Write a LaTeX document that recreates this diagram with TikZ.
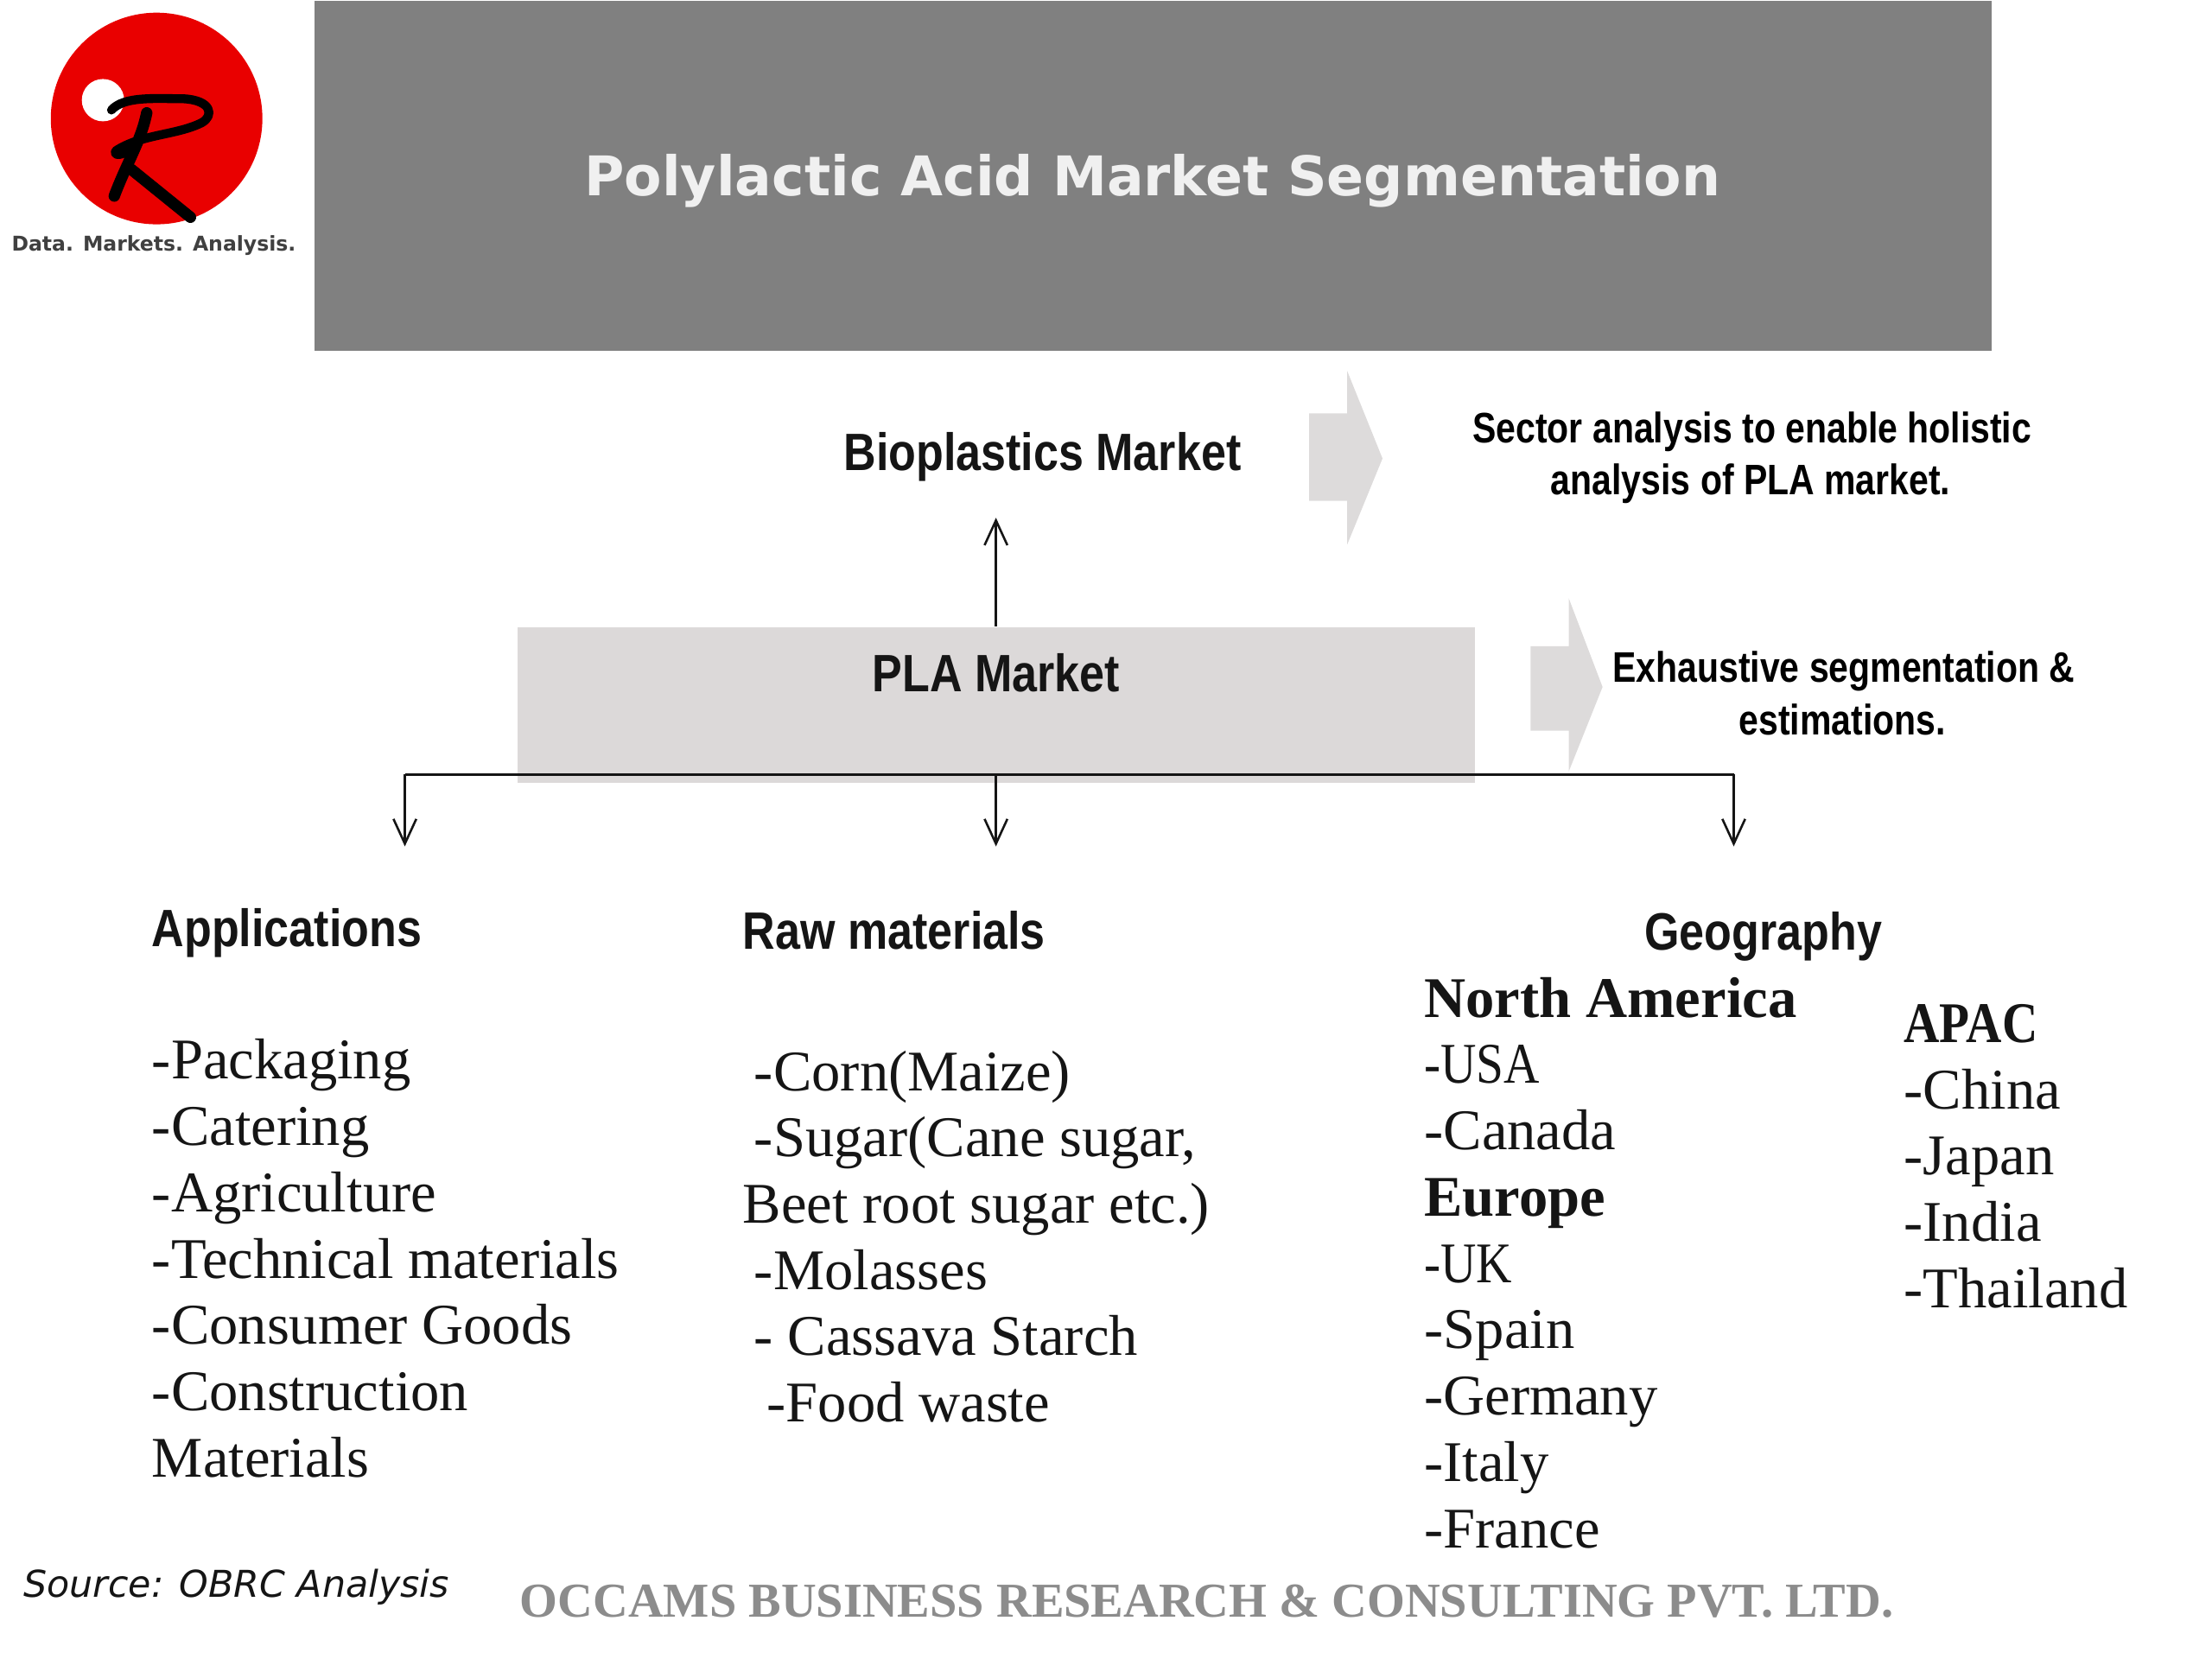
\documentclass[tikz,border=0pt]{standalone}
\usepackage{fontspec}
\setmainfont{Liberation Serif}
\newfontfamily\headfont[FakeStretch=0.855]{Liberation Sans}
\newfontfamily\notefont[FakeStretch=0.83]{Liberation Sans}
\newfontfamily\titlefont{DejaVu Sans}
\newfontfamily\listfont{Liberation Serif}
\newfontfamily\capsfont[FakeStretch=0.86]{Liberation Serif}
\usetikzlibrary{arrows.meta}
\definecolor{hdr}{HTML}{808080}
\definecolor{boxg}{HTML}{DCD9D9}
\definecolor{arrg}{HTML}{DDDBDB}
\definecolor{logored}{HTML}{E90000}
\definecolor{ink}{HTML}{151515}
\definecolor{occ}{HTML}{8C8C8C}
\tikzset{
  x=0.01cm,y=-0.01cm,
  headtext/.style={font=\headfont\bfseries\fontsize{10.6}{12}\selectfont,text=ink,inner sep=0pt},
  notetext/.style={font=\notefont\bfseries\fontsize{8.6}{10}\selectfont,text=black,inner sep=0pt},
  listitem/.style={font=\listfont\fontsize{11.6}{13}\selectfont,text=ink,inner sep=0pt,anchor=base west},
  listbold/.style={listitem,font=\listfont\bfseries\fontsize{11.6}{13}\selectfont},
  listcaps/.style={listitem,font=\capsfont\fontsize{11.6}{13}\selectfont},
  listcapsbold/.style={listitem,font=\capsfont\bfseries\fontsize{11.6}{13}\selectfont},
  conn/.style={draw=ink,line width=0.45pt,-{Straight Barb[length=5pt,width=4.6pt,line width=0.45pt]}},
  bar/.style={draw=ink,line width=0.55pt},
  grayarrow/.style={fill=arrg,draw=none},
  rstroke/.style={draw=black,line width=1.8pt,line cap=round,line join=round},
  rstem/.style={rstroke,line width=2.3pt}
}
\begin{document}
\begin{tikzpicture}
\useasboundingbox (0,0) rectangle (1568,1176);
% header
\node[fill=hdr,minimum width=1189*0.01cm,minimum height=248*0.01cm,inner sep=0pt,anchor=north west] (header) at (222,0) {};
\node[font=\titlefont\bfseries\fontsize{11.02}{14}\selectfont,text=white!94!black,inner sep=0pt] (title) at (817,128) {Polylactic Acid Market Segmentation};
% logo
\fill[logored] (111,84) circle (75);
\fill[white] (73,71) circle (15);
\draw[rstroke] (79,78) .. controls (88,68) and (110,70) .. (130,70) .. controls (150,71) and (152,82) .. (143,87) .. controls (125,96) and (100,95) .. (82,107) .. controls (80,111) and (88,110) .. (91,106);
\draw[rstem] (104,80) .. controls (100,100) and (90,115) .. (81,139);
\draw[rstem] (93,120) -- (135,154);
\node[font=\titlefont\bfseries\fontsize{4.1}{6}\selectfont,text=black!75,inner sep=0pt] (logotext) at (109,174) {Data. Markets. Analysis.};
% upper band
\node[headtext] (bio) at (739,324) {Bioplastics Market};
\path[grayarrow] (928,293) -- (955,293) -- (955,263) -- (980,325) -- (955,386) -- (955,355) -- (928,355) -- cycle;
\node[notetext] (note1) at (1242,306) {Sector analysis to enable holistic};
\node[notetext] (note1b) at (1241,343) {analysis of PLA market.};
% PLA box
\node[fill=boxg,minimum width=679*0.01cm,minimum height=110*0.01cm,inner sep=0pt,anchor=north west] (pla) at (366,444) {};
\node[headtext] (plalabel) at (706,477) {PLA Market};
\path[grayarrow] (1085,458) -- (1112,458) -- (1112,424) -- (1136,487) -- (1112,547) -- (1112,518) -- (1085,518) -- cycle;
\node[notetext] (note2) at (1307,476) {Exhaustive segmentation \&};
\node[notetext] (note2b) at (1306,510) {estimations.};
% connectors
\coordinate (upend) at (706,367);
\coordinate (tl) at (287,549);
\coordinate (tm) at (706,549);
\coordinate (tr) at (1229,549);
\coordinate (dl) at (287,600);
\coordinate (dm) at (706,600);
\coordinate (dr) at (1229,600);
\draw[conn] (pla.north -| upend) -- (upend);
\draw[bar] (tl) -- (tr);
\draw[conn] (tl) -- (dl);
\draw[conn] (tm) -- (dm);
\draw[conn] (tr) -- (dr);
% headings
\node[headtext,anchor=base west] (apphead) at (107,671) {Applications};
\node[headtext,anchor=base west] (rawhead) at (526,673) {Raw materials};
\node[headtext] (geohead) at (1250,664) {Geography};
% applications
\node[listitem] (a1) at (107,765) {-Packaging};
\node[listitem] (a2) at (107,812) {-Catering};
\node[listitem] (a3) at (107,859) {-Agriculture};
\node[listitem] (a4) at (107,906) {-Technical materials};
\node[listitem] (a5) at (107,953) {-Consumer Goods};
\node[listitem] (a6) at (107,1000) {-Construction};
\node[listitem] (a7) at (107,1047) {Materials};
% raw materials
\node[listitem] (r1) at (534,773) {-Corn(Maize)};
\node[listitem] (r2) at (534,820) {-Sugar(Cane sugar,};
\node[listitem] (r3) at (526,867) {Beet root sugar etc.)};
\node[listitem] (r4) at (534,914) {-Molasses};
\node[listitem] (r5) at (534,961) {- Cassava Starch};
\node[listitem] (r6) at (543,1008) {-Food waste};
% geography
\node[listbold] (g1) at (1009,721) {North America};
\node[listcaps] (g2) at (1009,768) {-USA};
\node[listitem] (g3) at (1009,815) {-Canada};
\node[listbold] (g4) at (1009,862) {Europe};
\node[listcaps] (g5) at (1009,909) {-UK};
\node[listitem] (g6) at (1009,956) {-Spain};
\node[listitem] (g7) at (1009,1003) {-Germany};
\node[listitem] (g8) at (1009,1050) {-Italy};
\node[listitem] (g9) at (1009,1097) {-France};
\node[listcapsbold] (p1) at (1349,739) {APAC};
\node[listitem] (p2) at (1349,786) {-China};
\node[listitem] (p3) at (1349,833) {-Japan};
\node[listitem] (p4) at (1349,880) {-India};
\node[listitem] (p5) at (1349,927) {-Thailand};
% footer
\node[font=\titlefont\itshape\fontsize{7.45}{9}\selectfont,text=ink,inner sep=0pt,anchor=base west] (source) at (16,1132) {Source: OBRC Analysis};
\node[font=\bfseries\fontsize{9.82}{12}\selectfont,text=occ,inner sep=0pt,anchor=base west] (occams) at (368,1146) {OCCAMS BUSINESS RESEARCH \& CONSULTING PVT. LTD.};
\end{tikzpicture}
\end{document}
